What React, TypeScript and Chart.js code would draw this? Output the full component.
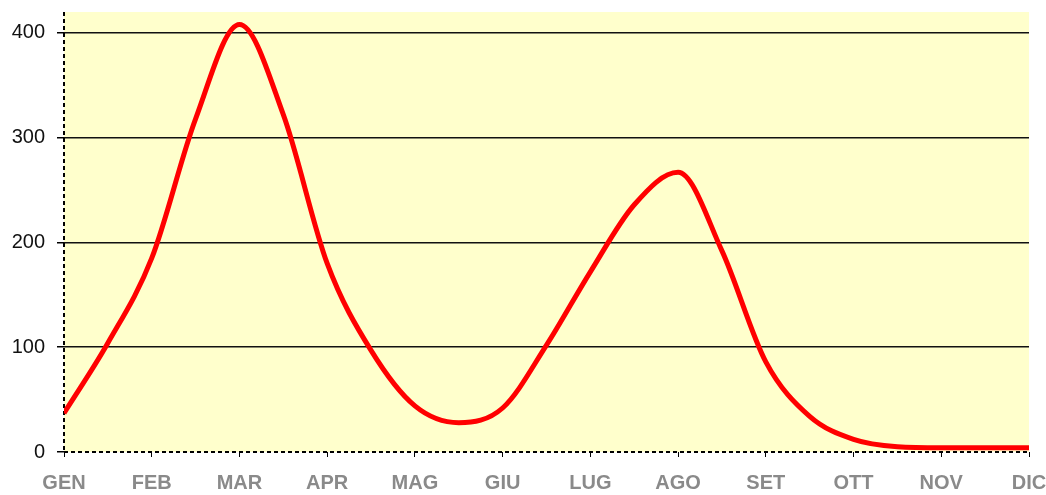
import React, { useEffect, useRef } from 'react';
import { Chart, registerables } from 'chart.js';

Chart.register(...registerables);

const monthLabels = ['GEN', 'FEB', 'MAR', 'APR', 'MAG', 'GIU', 'LUG', 'AGO', 'SET', 'OTT', 'NOV', 'DIC'];
const samplePositions = [0, 0.5, 1, 1.5, 2, 2.5, 3, 3.5, 4, 4.5, 5, 5.5, 6, 6.5, 7, 7.5, 8, 8.5, 9, 9.5, 10, 10.5, 11];
const sampleValues = [37, 104, 185, 318, 408, 322, 180, 97, 44, 28, 42, 102, 172, 236, 267, 192, 86, 34, 12, 5, 4, 4, 4];
const yTickValues = [0, 100, 200, 300, 400];

const FONT = "'Liberation Sans', Arial, sans-serif";

export default function App() {
  const ref = useRef<HTMLCanvasElement | null>(null);

  useEffect(() => {
    document.body.style.margin = '0';
    const canvas = ref.current;
    if (!canvas) return;

    const bgPlugin = {
      id: 'plotBg',
      beforeDraw(chart: any) {
        const { ctx, chartArea: a } = chart;
        ctx.save();
        ctx.fillStyle = '#FFFFCC';
        ctx.fillRect(a.left, a.top, a.right - a.left, a.bottom - a.top);
        ctx.restore();
      },
      beforeDatasetsDraw(chart: any) {
        const { ctx, chartArea: a } = chart;
        ctx.save();
        ctx.strokeStyle = '#000';
        ctx.lineWidth = 2;
        ctx.setLineDash([4, 3]);
        ctx.beginPath();
        ctx.moveTo(a.left, a.top);
        ctx.lineTo(a.left, a.bottom);
        ctx.stroke();
        ctx.beginPath();
        ctx.moveTo(a.left, a.bottom);
        ctx.lineTo(a.right, a.bottom);
        ctx.stroke();
        ctx.restore();
      },
    };

    const chart = new Chart(canvas, {
      type: 'line',
      data: {
        datasets: [
          {
            data: samplePositions.map((x, i) => ({ x, y: sampleValues[i] })),
            borderColor: '#FF0000',
            borderWidth: 5,
            pointRadius: 0,
            fill: false,
            cubicInterpolationMode: 'monotone',
          },
        ],
      },
      options: {
        animation: false,
        responsive: false,
        devicePixelRatio: 1,
        layout: { padding: { top: 12, right: 17, bottom: 0, left: 0 } },
        plugins: { legend: { display: false }, tooltip: { enabled: false } },
        scales: {
          x: {
            type: 'linear',
            min: 0,
            max: 11,
            afterBuildTicks: (scale: any) => {
              scale.ticks = monthLabels.map((_, i) => ({ value: i }));
            },
            afterFit: (scale: any) => {
              scale.height = 43;
              scale.paddingLeft = 0;
              scale.paddingRight = 0;
            },
            ticks: {
              autoSkip: false,
              maxRotation: 0,
              padding: 14,
              color: '#8a8a8a',
              font: { family: FONT, size: 20, weight: 'bold' },
              callback: (v: any) => monthLabels[Math.round(Number(v))] ?? '',
            },
            grid: {
              drawOnChartArea: false,
              drawTicks: true,
              tickLength: 5,
              color: '#000',
            },
            border: { display: false },
          },
          y: {
            min: 0,
            max: 420,
            afterBuildTicks: (scale: any) => {
              scale.ticks = yTickValues.map((v) => ({ value: v }));
            },
            afterFit: (scale: any) => {
              scale.width = 64;
              scale.paddingTop = 0;
              scale.paddingBottom = 0;
            },
            ticks: {
              padding: 12,
              color: '#111',
              font: { family: FONT, size: 20 },
            },
            grid: {
              color: (ctx: any) => (ctx.tick && ctx.tick.value === 0 ? 'rgba(0,0,0,0)' : '#111'),
              tickColor: '#000',
              tickLength: 7,
              lineWidth: 1.5,
            },
            border: { display: false },
          },
        },
      },
      plugins: [bgPlugin],
    } as any);

    return () => chart.destroy();
  }, []);

  return (
    <div style={{ width: 1046, height: 495 }}>
      <canvas ref={ref} width={1046} height={495} style={{ display: 'block' }} />
    </div>
  );
}
